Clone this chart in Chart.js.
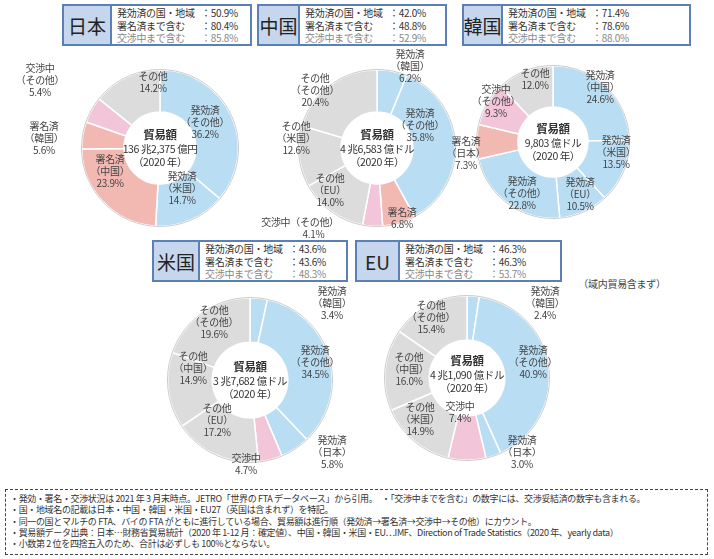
<!DOCTYPE html>
<html><head><meta charset="utf-8">
<script src="https://cdn.jsdelivr.net/npm/chart.js@4"></script>
<style>
body{margin:0;width:714px;height:559px;background:#fff;font-family:"Noto Sans CJK JP","Noto Sans",sans-serif;position:relative;overflow:hidden;color:#333}
.a{position:absolute}
.lab{position:absolute;font-size:10px;line-height:12px;text-align:center;transform:translate(-50%,-50%);white-space:nowrap;color:#444;letter-spacing:-0.3px}
.cen{position:absolute;font-size:10.5px;line-height:13.5px;text-align:center;transform:translate(-50%,-50%);white-space:nowrap;color:#333;letter-spacing:-0.4px}
.hl{position:absolute;background:#c6d6ec;border:2px solid #5b80b8;font-size:19px;display:flex;align-items:center;justify-content:center;box-sizing:border-box;color:#222;white-space:nowrap}
.hs{position:absolute;border:2px solid #5b80b8;border-left:none;font-size:10px;line-height:12.5px;padding:1px 5px;box-sizing:border-box;background:#fff;white-space:nowrap;letter-spacing:-0.3px}
.hs span{display:inline-block;width:84px}
.hs .g{color:#888}
canvas{position:absolute}
#notes{position:absolute;left:5px;top:489px;width:703px;height:66px;border:1.5px dashed #444;box-sizing:border-box;font-size:9px;line-height:11.3px;padding:3px 4px;color:#333;white-space:nowrap;letter-spacing:-0.35px}
</style></head><body>
<script>
// ---- data ----
const jpLabels=["発効済（その他）","発効済（米国）","署名済（中国）","署名済（韓国）","交渉中（その他）","その他"];
const jpValues=[36.2,14.7,23.9,5.6,5.4,14.2];
const jpTypes=["e","e","s","s","n","o"];
const cnLabels=["発効済（韓国）","発効済（その他）","署名済","交渉中（その他）","その他（EU）","その他（米国）","その他（その他）"];
const cnValues=[6.2,35.8,6.8,4.1,14.0,12.6,20.4];
const cnTypes=["e","e","s","n","o","o","o"];
const krLabels=["発効済（中国）","発効済（米国）","発効済（EU）","発効済（その他）","署名済（日本）","交渉中（その他）","その他"];
const krValues=[24.6,13.5,10.5,22.8,7.3,9.3,12.0];
const krTypes=["e","e","e","e","s","n","o"];
const usLabels=["発効済（韓国）","発効済（その他）","発効済（日本）","交渉中","その他（EU）","その他（中国）","その他（その他）"];
const usValues=[3.4,34.5,5.8,4.7,17.2,14.9,19.6];
const usTypes=["e","e","e","n","o","o","o"];
const euLabels=["発効済（韓国）","発効済（その他）","発効済（日本）","交渉中","その他（米国）","その他（中国）","その他（その他）"];
const euValues=[2.4,40.9,3.0,7.4,14.9,16.0,15.4];
const euTypes=["e","e","e","n","o","o","o"];
const colorMap={e:"#b9ddf3",s:"#f2b9b3",n:"#f3c5d9",o:"#dcdcdc"};

function add(cls,x,y,html,style){const d=document.createElement('div');d.className=cls;d.style.left=x+'px';d.style.top=y+'px';if(style)d.style.cssText+=style;d.innerHTML=html;document.body.appendChild(d);return d;}
function donut(cx,cy,R,labels,values,types){
  const c=document.createElement('canvas');const s=2*R+4;
  c.style.left=(cx-s/2)+'px';c.style.top=(cy-s/2)+'px';c.style.width=s+'px';c.style.height=s+'px';
  document.body.appendChild(c);
  new Chart(c,{type:'doughnut',data:{labels:labels,datasets:[{data:values,backgroundColor:types.map(t=>colorMap[t]),borderColor:'#fff',borderWidth:1.5}]},
   options:{responsive:false,animation:false,cutout:'46%',layout:{padding:1},plugins:{legend:{display:false},tooltip:{enabled:false}}}});
  const ring=document.createElement('div');ring.className='a';
  ring.style.cssText=`left:${cx-R-1}px;top:${cy-R-1}px;width:${2*R+2}px;height:${2*R+2}px;border-radius:50%;border:1px solid #ccc;box-sizing:border-box;pointer-events:none`;
  document.body.appendChild(ring);
}
function header(x,y,w1,w2,name,v){
  add('hl',x,y,name,`width:${w1}px;height:42px`);
  add('hs',x+w1,y,`<span>発効済の国・地域</span>：${v[0]}<br><span>署名済まで含む</span>：${v[1]}<br><span class="g">交渉中まで含む</span><b class="g" style="font-weight:normal">：${v[2]}</b>`,`width:${w2}px;height:42px`);
}
function lab(x,y,t){add('lab',x,y,t);}
function cen(x,y,t){add('cen',x,y,`<b style="font-size:11.5px">貿易額</b><br>${t}<br>（2020 年）`);}

header(62,4,50,140,"日本",["50.9%","80.4%","85.8%"]);
header(257,4,43,147,"中国",["42.0%","48.8%","52.9%"]);
header(462,4,41,188,"韓国",["71.4%","78.6%","88.0%"]);
header(152,240,48,148,"米国",["43.6%","43.6%","48.3%"]);
header(355,240,45,162,"EU",["46.3%","46.3%","53.7%"]);

donut(160,148,78,jpLabels,jpValues,jpTypes);
donut(377,148,78,cnLabels,cnValues,cnTypes);
donut(553,142,76,krLabels,krValues,krTypes);
donut(250,380,82,usLabels,usValues,usTypes);
donut(467,378,82,euLabels,euValues,euTypes);

// Japan labels
lab(153,82,"その他<br>14.2%");lab(205,122,"発効済<br>（その他）<br>36.2%");lab(182,188,"発効済<br>（米国）<br>14.7%");
lab(110,171,"署名済<br>（中国）<br>23.9%");lab(44,138,"署名済<br>（韓国）<br>5.6%");lab(40,80,"交渉中<br>（その他）<br>5.4%");
cen(160,148,"136 兆2,375 億円");
// China
lab(410,66,"発効済<br>（韓国）<br>6.2%");lab(420,125,"発効済<br>（その他）<br>35.8%");lab(402,218,"署名済<br>6.8%");
lab(300,228,"交渉中（その他）<br>&nbsp;&nbsp;&nbsp;&nbsp;&nbsp;&nbsp;&nbsp;&nbsp;&nbsp;&nbsp;&nbsp;&nbsp;&nbsp;&nbsp;4.1%");lab(330,190,"その他<br>（EU）<br>14.0%");
lab(296,138,"その他<br>（米国）<br>12.6%");lab(315,90,"その他<br>（その他）<br>20.4%");
cen(377,148,"4 兆6,583 億ドル");
// Korea
lab(535,79,"その他<br>12.0%");lab(600,87,"発効済<br>（中国）<br>24.6%");lab(616,152,"発効済<br>（米国）<br>13.5%");
lab(580,194,"発効済<br>（EU）<br>10.5%");lab(522,193,"発効済<br>（その他）<br>22.8%");lab(466,153,"署名済<br>（日本）<br>7.3%");
lab(496,101,"交渉中<br>（その他）<br>9.3%");
cen(553,142,"9,803 億ドル");
// US
lab(332,303,"発効済<br>（韓国）<br>3.4%");lab(315,362,"発効済<br>（その他）<br>34.5%");lab(332,452,"発効済<br>（日本）<br>5.8%");
lab(246,464,"交渉中<br>4.7%");lab(217,420,"その他<br>（EU）<br>17.2%");lab(193,368,"その他<br>（中国）<br>14.9%");
lab(214,322,"その他<br>（その他）<br>19.6%");
cen(250,380,"3 兆7,682 億ドル");
// EU
lab(622,284,"（域内貿易含まず）");
lab(545,303,"発効済<br>（韓国）<br>2.4%");lab(533,362,"発効済<br>（その他）<br>40.9%");lab(522,452,"発効済<br>（日本）<br>3.0%");
lab(460,412,"交渉中<br>7.4%");lab(420,419,"その他<br>（米国）<br>14.9%");lab(409,369,"その他<br>（中国）<br>16.0%");
lab(431,317,"その他<br>（その他）<br>15.4%");
cen(467,374,"4 兆1,090 億ドル");

add('a',0,0,'<div id="notes">・発効・署名・交渉状況は 2021 年 3 月末時点。JETRO「世界の FTA データベース」から引用。　・「交渉中までを含む」の数字には、交渉妥結済の数字も含まれる。<br>・国・地域名の記載は日本・中国・韓国・米国・EU27（英国は含まれず）を特記。<br>・同一の国とマルチの FTA、バイの FTA がともに進行している場合、貿易額は進行順（発効済→署名済→交渉中→その他）にカウント。<br>・貿易額データ出典：日本…財務省貿易統計（2020 年 1-12 月：確定値）、中国・韓国・米国・EU…IMF、Direction of Trade Statistics（2020 年、yearly data）<br>・小数第 2 位を四捨五入のため、合計は必ずしも 100%とならない。</div>');
</script>
</body></html>
